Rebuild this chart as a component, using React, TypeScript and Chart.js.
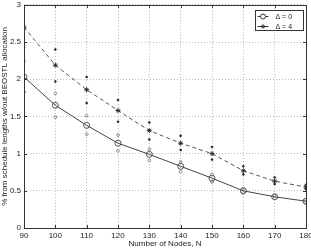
import React, { useEffect, useRef } from "react";
import { Chart, registerables } from "chart.js";

Chart.register(...registerables);

// Number of nodes on the x axis
const nodes = [90, 100, 110, 120, 130, 140, 150, 160, 170, 180];

// Mean increase (%) for each reconfiguration delay
const delta0Mean = [2.03, 1.65, 1.38, 1.14, 0.99, 0.83, 0.67, 0.5, 0.42, 0.36];
const delta4Mean = [2.7, 2.19, 1.86, 1.58, 1.31, 1.14, 1.0, 0.77, 0.63, 0.55];

// Spread of the individual runs around each mean
const delta0High = [2.24, 1.81, 1.51, 1.25, 1.06, 0.89, 0.72, 0.53, 0.44, 0.38];
const delta0Low = [1.83, 1.49, 1.26, 1.04, 0.91, 0.76, 0.62, 0.47, 0.4, 0.34];
const delta4High = [null, 2.4, 2.03, 1.72, 1.42, 1.24, 1.09, 0.83, 0.68, 0.58];
const delta4Low = [2.43, 1.97, 1.68, 1.43, 1.19, 1.05, 0.92, 0.72, 0.59, 0.52];

const legendLabels = ["\u0394 = 0", "\u0394 = 4"];
const xTitle = "Number of Nodes, N";
const yTitle = "% from schedule lengths w/out BEOSTL allocation";

const FONT = "'Liberation Sans', Arial, sans-serif";

const pts = (ys: (number | null)[]) => nodes.map((x, i) => ({ x, y: ys[i] }));

// Box around the plot area with inward tick marks on every side
const framePlugin = {
  id: "frame",
  afterDraw(chart: any) {
    const { ctx, chartArea: a, scales } = chart;
    ctx.save();
    ctx.strokeStyle = "#333";
    ctx.lineWidth = 1;
    ctx.strokeRect(Math.round(a.left) + 0.5, Math.round(a.top) + 0.5, Math.round(a.right - a.left), Math.round(a.bottom - a.top));
    const t = 3;
    ctx.beginPath();
    scales.x.ticks.forEach((tk: any) => {
      const px = Math.round(scales.x.getPixelForValue(tk.value)) + 0.5;
      ctx.moveTo(px, a.bottom);
      ctx.lineTo(px, a.bottom - t);
      ctx.moveTo(px, a.top);
      ctx.lineTo(px, a.top + t);
    });
    scales.y.ticks.forEach((tk: any) => {
      const py = Math.round(scales.y.getPixelForValue(tk.value)) + 0.5;
      ctx.moveTo(a.left, py);
      ctx.lineTo(a.left + t, py);
      ctx.moveTo(a.right, py);
      ctx.lineTo(a.right - t, py);
    });
    ctx.stroke();
    ctx.restore();
  },
};

// Boxed legend in the upper right corner of the plot
const legendPlugin = {
  id: "boxLegend",
  afterDraw(chart: any) {
    const { ctx, chartArea: a } = chart;
    const w = 48;
    const h = 20;
    const x0 = Math.round(a.right - 3 - w) + 0.5;
    const y0 = Math.round(a.top + 5) + 0.5;
    ctx.save();
    ctx.fillStyle = "#fff";
    ctx.fillRect(x0, y0, w, h);
    ctx.strokeStyle = "#333";
    ctx.lineWidth = 1;
    ctx.strokeRect(x0, y0, w, h);
    ctx.font = `7px ${FONT}`;
    ctx.textBaseline = "middle";
    legendLabels.forEach((label, i) => {
      const y = Math.round(y0 + 5 + i * 10) + 0.5;
      ctx.strokeStyle = "#333";
      ctx.beginPath();
      ctx.moveTo(x0 + 2, y);
      ctx.lineTo(x0 + 13, y);
      ctx.stroke();
      const cx = x0 + 7.5;
      if (i === 0) {
        ctx.fillStyle = "#fff";
        ctx.beginPath();
        ctx.arc(cx, y, 2.5, 0, Math.PI * 2);
        ctx.fill();
        ctx.stroke();
      } else {
        ctx.beginPath();
        for (let k = 0; k < 4; k++) {
          const ang = (k * Math.PI) / 4;
          ctx.moveTo(cx - 2.2 * Math.cos(ang), y - 2.2 * Math.sin(ang));
          ctx.lineTo(cx + 2.2 * Math.cos(ang), y + 2.2 * Math.sin(ang));
        }
        ctx.stroke();
      }
      ctx.fillStyle = "#222";
      ctx.fillText(label, x0 + 20, y + 0.5);
    });
    ctx.restore();
  },
};

export default function App() {
  const ref = useRef<HTMLCanvasElement | null>(null);

  useEffect(() => {
    if (!ref.current) return;
    const chart = new Chart(ref.current, {
      type: "line",
      data: {
        datasets: [
          {
            label: "d0-runs",
            data: pts(delta0High).concat(pts(delta0Low)),
            showLine: false,
            pointStyle: "circle",
            pointRadius: 1.4,
            pointBorderWidth: 0.8,
            pointBorderColor: "#777",
            pointBackgroundColor: "rgba(255,255,255,0)",
          },
          {
            label: "d4-runs",
            data: pts(delta4High).concat(pts(delta4Low)),
            showLine: false,
            pointStyle: "circle",
            pointRadius: 1,
            pointBorderWidth: 0.6,
            pointBorderColor: "#222",
            pointBackgroundColor: "#222",
          },
          {
            label: legendLabels[0],
            data: pts(delta0Mean),
            borderColor: "#444",
            borderWidth: 1,
            tension: 0,
            pointStyle: "circle",
            pointRadius: 3,
            pointBorderWidth: 0.9,
            pointBorderColor: "#444",
            pointBackgroundColor: "rgba(255,255,255,0)",
          },
          {
            label: legendLabels[1],
            data: pts(delta4Mean),
            borderColor: "#555",
            borderWidth: 1,
            borderDash: [4, 3],
            tension: 0,
            pointStyle: "star",
            pointRadius: 2.5,
            pointBorderWidth: 0.9,
            pointBorderColor: "#222",
            pointBackgroundColor: "#222",
          },
        ],
      },
      options: {
        animation: false,
        responsive: false,
        maintainAspectRatio: false,
        layout: { padding: { top: 4, right: 5, left: 0, bottom: 0 } },
        plugins: {
          legend: { display: false },
          tooltip: { enabled: false },
        },
        scales: {
          x: {
            type: "linear",
            min: 90,
            max: 180,
            afterFit: (s: any) => {
              s.height = 22;
              s.paddingLeft = 0;
              s.paddingRight = 0;
            },
            ticks: {
              stepSize: 10,
              color: "#222",
              padding: 3,
              font: { family: FONT, size: 8 },
              maxRotation: 0,
            },
            grid: {
              color: "#aaa",
              lineWidth: 0.8,
              drawTicks: false,
            },
            border: { display: false, dash: [1, 2] },
            title: {
              display: true,
              text: xTitle,
              color: "#222",
              font: { family: FONT, size: 8 },
              padding: { top: 0, bottom: 1 },
            },
          },
          y: {
            type: "linear",
            min: 0,
            max: 3,
            afterFit: (s: any) => {
              s.width = 24;
              s.paddingTop = 0;
              s.paddingBottom = 0;
            },
            ticks: {
              stepSize: 0.5,
              color: "#222",
              padding: 3,
              font: { family: FONT, size: 8 },
              callback: (v: any) => String(v),
            },
            grid: {
              color: "#aaa",
              lineWidth: 0.8,
              drawTicks: false,
            },
            border: { display: false, dash: [1, 2] },
            title: {
              display: true,
              text: yTitle,
              color: "#222",
              font: { family: FONT, size: 8 },
              padding: { top: 0, bottom: 0 },
            },
          },
        },
      },
      plugins: [framePlugin, legendPlugin],
    });
    return () => chart.destroy();
  }, []);

  return (
    <div style={{ position: "fixed", left: 0, top: 0, width: 311, height: 250, background: "#fff" }}>
      <canvas ref={ref} width={311} height={250} style={{ display: "block", width: 311, height: 250 }} />
    </div>
  );
}
